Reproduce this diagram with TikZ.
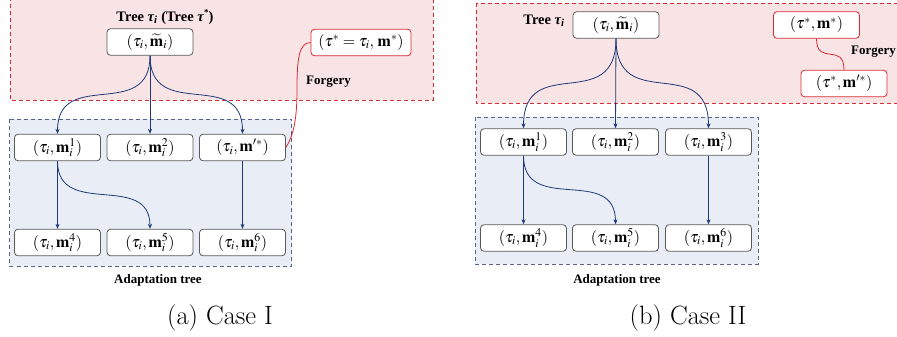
\documentclass[tikz,border=0pt]{standalone}
\usepackage{fontspec}
\usepackage{mathptmx}
\renewcommand{\rmdefault}{lmr}
\usetikzlibrary{arrows.meta}
\newfontfamily\tnr{Liberation Serif}

\definecolor{forgeryred}{HTML}{D92B35}
\definecolor{pinkfill}{HTML}{F8E3E5}
\definecolor{bluefill}{HTML}{E8EDF6}
\definecolor{blueedge}{HTML}{56668A}
\definecolor{arrowblue}{HTML}{1F3A78}
\definecolor{nodeedge}{HTML}{5A5A5A}

\tikzset{
  x=1pt, y=-1pt,
  pairbox/.style={draw=nodeedge, fill=white, rounded corners=3.5pt, line width=0.8pt,
    minimum width=86pt, minimum height=26.5pt, inner sep=0pt,
    font=\fontsize{16}{18}\selectfont},
  fakebox/.style={pairbox, draw=forgeryred},
  treelabel/.style={font=\tnr\bfseries\fontsize{13}{15}\selectfont, inner sep=0pt},
  titlelabel/.style={font=\tnr\bfseries\fontsize{14.5}{16}\selectfont, inner sep=0pt},
  caption/.style={font=\fontsize{26.5}{30}\selectfont, inner sep=0pt},
  outerregion/.style={draw=forgeryred, fill=pinkfill, dashed, dash pattern=on 4pt off 3pt, line width=0.9pt},
  innerregion/.style={draw=blueedge, fill=bluefill, dashed, dash pattern=on 4pt off 3pt, line width=0.9pt},
  edge/.style={draw=arrowblue, line width=0.8pt, -{Stealth[length=5pt,width=4pt]}},
  fakelink/.style={draw=forgeryred, line width=0.8pt}
}

\begin{document}
\begin{tikzpicture}
\useasboundingbox (0,0) rectangle (897,337);

% ---------------- Case I ----------------
\draw[outerregion] (10,-3) rectangle (433,100);
\draw[innerregion] (9.5,119) rectangle (291.5,266);

\node[titlelabel] at (165,17) {Tree \textit{τ\textsubscript{i}} (Tree \textit{τ}\raisebox{0.9ex}{\fontsize{9}{10}\selectfont *})};
\node[pairbox] (aroot) at (150,42) {$(\tau_i, \widetilde{\mathbf{m}}_i)$};
\node[fakebox, minimum width=100pt] (afake) at (361,42.5) {$(\tau^* = \tau_i,\, \mathbf{m}^*)$};
\node[treelabel] at (328.5,82) {Forgery};

\node[pairbox] (a1) at (57.5,147.5) {$(\tau_i, \mathbf{m}_i^1)$};
\node[pairbox] (a2) at (150,147.5) {$(\tau_i, \mathbf{m}_i^2)$};
\node[pairbox] (a3) at (242.5,147.5) {$(\tau_i, \mathbf{m}'^{*})$};
\node[pairbox] (a4) at (57.5,242.5) {$(\tau_i, \mathbf{m}_i^4)$};
\node[pairbox] (a5) at (150,242.5) {$(\tau_i, \mathbf{m}_i^5)$};
\node[pairbox] (a6) at (242.5,242.5) {$(\tau_i, \mathbf{m}_i^6)$};
\node[treelabel] at (158,280) {Adaptation tree};

\draw[edge] (aroot.south) .. controls +(0,67) and +(0,-67) .. (a1.north);
\draw[edge] (aroot.south) -- (a2.north);
\draw[edge] (aroot.south) .. controls +(0,67) and +(0,-67) .. (a3.north);
\draw[edge] (a1.south) -- (a4.north);
\draw[edge] (a1.south) .. controls +(0,58) and +(0,-58) .. (a5.north);
\draw[edge] (a3.south) -- (a6.north);

\draw[fakelink] (afake.west) .. controls +(-12,0) and +(0,-30) .. (297,90)
  .. controls +(0,35) and +(6,-10) .. (a3.east);

\node[caption] at (220,318) {(a) Case I};

% ---------------- Case II ----------------
\draw[outerregion] (476,3) rectangle (902,103);
\draw[innerregion] (475,117) rectangle (758,264);

\node[titlelabel] at (544,21) {Tree \textit{τ\textsubscript{i}}};
\node[pairbox] (broot) at (616,25) {$(\tau_i, \widetilde{\mathbf{m}}_i)$};
\node[fakebox] (bfake) at (816.5,25) {$(\tau^*, \mathbf{m}^*)$};
\node[fakebox] (bfake2) at (844,83.5) {$(\tau^*, \mathbf{m}'^{*})$};
\node[treelabel] at (873.5,52) {Forgery};

\node[pairbox] (b1) at (523.5,142) {$(\tau_i, \mathbf{m}_i^1)$};
\node[pairbox] (b2) at (615.5,142) {$(\tau_i, \mathbf{m}_i^2)$};
\node[pairbox] (b3) at (708.5,142) {$(\tau_i, \mathbf{m}_i^3)$};
\node[pairbox] (b4) at (523.5,238) {$(\tau_i, \mathbf{m}_i^4)$};
\node[pairbox] (b5) at (615.5,238) {$(\tau_i, \mathbf{m}_i^5)$};
\node[pairbox] (b6) at (708.5,238) {$(\tau_i, \mathbf{m}_i^6)$};
\node[treelabel] at (617,280) {Adaptation tree};

\draw[edge] (broot.south) .. controls +(0,77) and +(0,-77) .. (b1.north);
\draw[edge] (broot.south) -- (b2.north);
\draw[edge] (broot.south) .. controls +(0,77) and +(0,-77) .. (b3.north);
\draw[edge] (b1.south) -- (b4.north);
\draw[edge] (b1.south) .. controls +(0,60) and +(0,-60) .. (b5.north);
\draw[edge] (b3.south) -- (b6.north);

\draw[fakelink] (bfake.south) .. controls +(0,28) and +(0,-28) .. (bfake2.north);

\node[caption] at (688,318) {(b) Case II};
\end{tikzpicture}
\end{document}
